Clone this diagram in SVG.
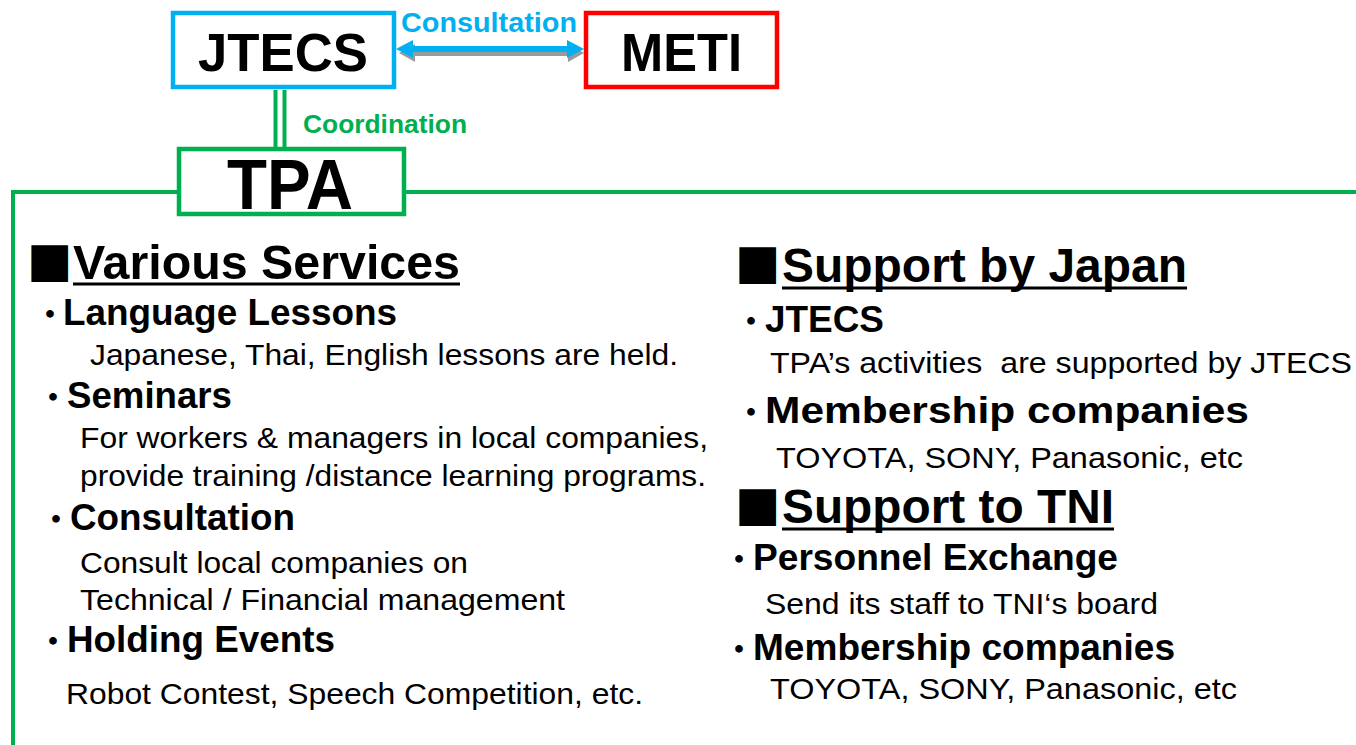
<svg xmlns="http://www.w3.org/2000/svg" width="1356" height="745" viewBox="0 0 1356 745">
<style>
.box{fill:#fff;stroke-width:4.5}
.big{font-family:"Liberation Sans",Arial,sans-serif;font-weight:bold;fill:#000}
.h{font-family:"Liberation Sans",Arial,sans-serif;font-weight:bold;font-size:48px;fill:#000}
.sub{font-family:"Liberation Sans",Arial,sans-serif;font-weight:bold;font-size:37px;fill:#000}
.body{font-family:"Liberation Sans",Arial,sans-serif;font-size:29px;fill:#000}
.sq{font-family:"DejaVu Sans",sans-serif;font-size:48px;fill:#000}
.dot{font-family:"Noto Sans CJK JP",sans-serif;font-weight:bold;font-size:30px}
.ul{stroke:#000;stroke-width:3}
.lbl{font-family:"Liberation Sans",Arial,sans-serif;font-weight:bold}
</style>
<rect width="1356" height="745" fill="#fff"/>
<g id="connectors">
  <line x1="12" y1="192" x2="1356" y2="192" stroke="#00B050" stroke-width="4"/>
  <line x1="13" y1="190" x2="13" y2="745" stroke="#00B050" stroke-width="4"/>
  <line x1="275.5" y1="90" x2="275.5" y2="147" stroke="#00B050" stroke-width="4"/>
  <line x1="284.5" y1="90" x2="284.5" y2="147" stroke="#00B050" stroke-width="4"/>
  <polygon points="397,49 413,40 413,46 566,46 566,40 582,49 566,58 566,52 413,52 413,58" fill="#9a9a9a" transform="translate(2,4)"/>
  <polygon points="396,49 413,40 413,46 567,46 567,40 584,49 567,58 567,52 413,52 413,58" fill="#00B0F0"/>
  <text class="lbl" x="401" y="32" font-size="27" fill="#00B0F0" textLength="176" lengthAdjust="spacingAndGlyphs">Consultation</text>
  <text class="lbl" x="303" y="133" font-size="25" fill="#00B050" textLength="164" lengthAdjust="spacingAndGlyphs">Coordination</text>
</g>
<g id="jtecs">
  <rect class="box" x="173" y="13" width="221" height="74" stroke="#00B0F0"/>
  <text class="big" x="198" y="71" font-size="54" textLength="170" lengthAdjust="spacingAndGlyphs">JTECS</text>
</g>
<g id="meti">
  <rect class="box" x="586" y="13" width="191" height="74" stroke="#FF0000"/>
  <text class="big" x="621" y="71" font-size="54" textLength="121" lengthAdjust="spacingAndGlyphs">METI</text>
</g>
<g id="tpa">
  <rect class="box" x="179" y="149" width="225" height="65" stroke="#00B050"/>
  <text class="big" x="227" y="209" font-size="70" textLength="126" lengthAdjust="spacingAndGlyphs">TPA</text>
</g>
<g id="various-services">
  <text class="sq" x="27" y="276">■</text>
  <text class="h" x="73" y="279" textLength="387" lengthAdjust="spacingAndGlyphs">Various Services</text>
  <line class="ul" x1="73" y1="284" x2="460" y2="284"/>
  <text class="sub" y="325"><tspan class="dot" x="35">・</tspan><tspan x="63" textLength="334" lengthAdjust="spacingAndGlyphs">Language Lessons</tspan></text>
  <text class="body" x="90" y="365" textLength="588" lengthAdjust="spacingAndGlyphs">Japanese, Thai, English lessons are held.</text>
  <text class="sub" y="408"><tspan class="dot" x="38">・</tspan><tspan x="67" textLength="165" lengthAdjust="spacingAndGlyphs">Seminars</tspan></text>
  <text class="body" x="80" y="448" textLength="628" lengthAdjust="spacingAndGlyphs">For workers &amp; managers in local companies,</text>
  <text class="body" x="80" y="486" textLength="626" lengthAdjust="spacingAndGlyphs">provide training /distance learning programs.</text>
  <text class="sub" y="530"><tspan class="dot" x="41">・</tspan><tspan x="70" textLength="225" lengthAdjust="spacingAndGlyphs">Consultation</tspan></text>
  <text class="body" x="80" y="573" textLength="388" lengthAdjust="spacingAndGlyphs">Consult local companies on</text>
  <text class="body" x="80" y="610" textLength="485" lengthAdjust="spacingAndGlyphs">Technical / Financial management</text>
  <text class="sub" y="652"><tspan class="dot" x="38">・</tspan><tspan x="67" textLength="268" lengthAdjust="spacingAndGlyphs">Holding Events</tspan></text>
  <text class="body" x="66" y="704" textLength="577" lengthAdjust="spacingAndGlyphs">Robot Contest, Speech Competition, etc.</text>
</g>
<g id="support-by-japan">
  <text class="sq" x="735" y="278">■</text>
  <text class="h" x="782" y="282" font-size="50" textLength="405" lengthAdjust="spacingAndGlyphs">Support by Japan</text>
  <line class="ul" x1="782" y1="288" x2="1187" y2="288"/>
  <text class="sub" y="332"><tspan class="dot" x="736">・</tspan><tspan x="765" textLength="119" lengthAdjust="spacingAndGlyphs">JTECS</tspan></text>
  <text class="body" x="770" y="373" textLength="582" lengthAdjust="spacingAndGlyphs" xml:space="preserve">TPA’s activities  are supported by JTECS</text>
  <text class="sub" y="423" font-size="42"><tspan class="dot" x="736">・</tspan><tspan x="765" textLength="484" lengthAdjust="spacingAndGlyphs">Membership companies</tspan></text>
  <text class="body" x="776" y="468" textLength="467" lengthAdjust="spacingAndGlyphs">TOYOTA, SONY, Panasonic, etc</text>
</g>
<g id="support-to-tni">
  <text class="sq" x="735" y="520">■</text>
  <text class="h" x="782" y="523" textLength="332" lengthAdjust="spacingAndGlyphs">Support to TNI</text>
  <line class="ul" x1="782" y1="529" x2="1114" y2="529"/>
  <text class="sub" y="570"><tspan class="dot" x="724">・</tspan><tspan x="753" textLength="365" lengthAdjust="spacingAndGlyphs">Personnel Exchange</tspan></text>
  <text class="body" x="765" y="614" textLength="393" lengthAdjust="spacingAndGlyphs">Send its staff to TNI‘s board</text>
  <text class="sub" y="660"><tspan class="dot" x="724">・</tspan><tspan x="753" textLength="422" lengthAdjust="spacingAndGlyphs">Membership companies</tspan></text>
  <text class="body" x="770" y="699" textLength="467" lengthAdjust="spacingAndGlyphs">TOYOTA, SONY, Panasonic, etc</text>
</g>
</svg>
